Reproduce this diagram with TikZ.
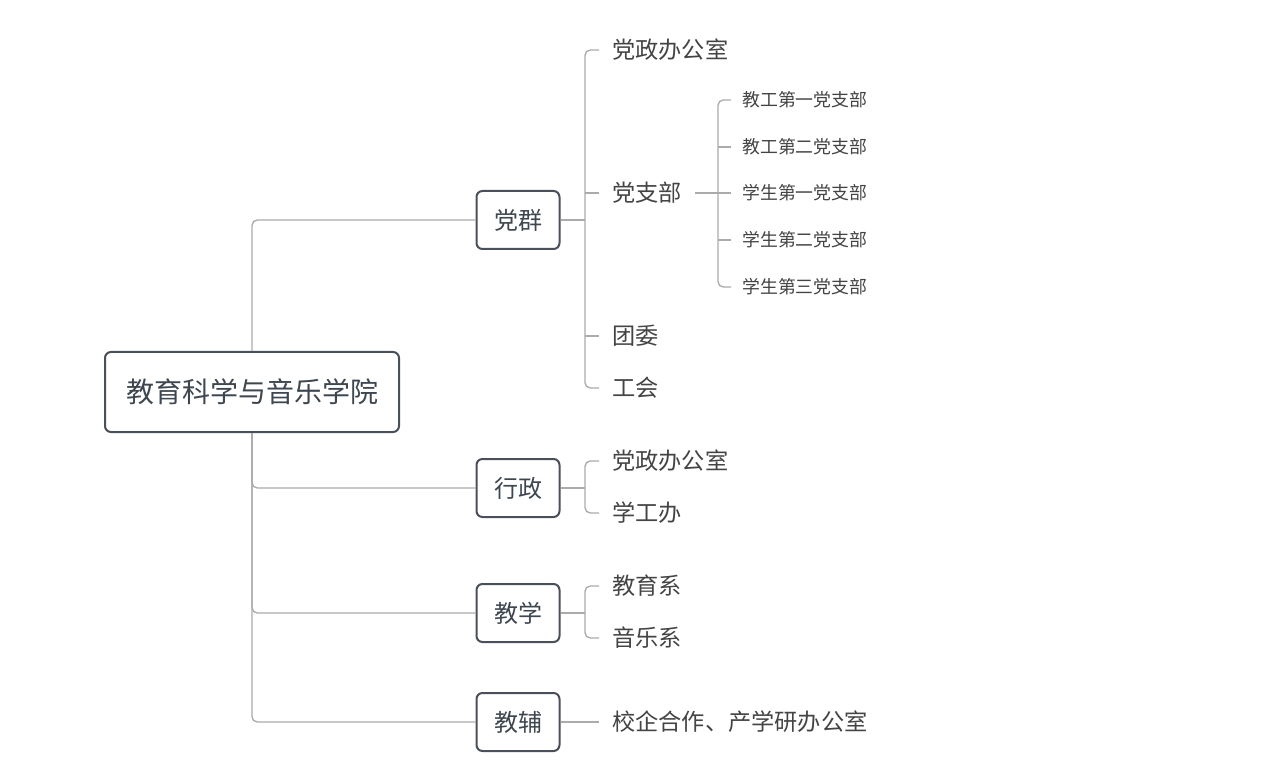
\documentclass[tikz,border=0pt]{standalone}
\usepackage{fontspec}
\setmainfont{Noto Sans CJK SC}
\usepackage{xcolor}
\usepackage{tikz}
\usetikzlibrary{calc}
\definecolor{boxline}{HTML}{4A5059}
\definecolor{ink}{HTML}{3E4650}
\definecolor{inkb}{HTML}{444444}
\definecolor{wire}{HTML}{ABABAB}
\tikzset{
  rootbox/.style={draw=boxline, line width=1.5pt, rounded corners=4.5pt, fill=white,
    minimum width=220.5pt, minimum height=60pt, text=ink, font=\fontsize{21pt}{25pt}\selectfont},
  catbox/.style={draw=boxline, line width=1.5pt, rounded corners=4.5pt, fill=white,
    minimum width=62.25pt, minimum height=43.5pt, text=ink, font=\fontsize{18pt}{22pt}\selectfont},
  conn/.style={draw=wire, line width=1pt, rounded corners=4pt},
  item/.style={anchor=west, inner xsep=9.75pt, inner ysep=0pt, text=inkb, font=\fontsize{17.4pt}{20pt}\selectfont},
  subitem/.style={anchor=west, inner xsep=8.25pt, inner ysep=0pt, text=inkb, font=\fontsize{13.4pt}{16pt}\selectfont}
}

\begin{document}
\begin{tikzpicture}[x=0.75pt,y=-0.75pt]
  \fill[white] (0,0) rectangle (1277,773);
  \useasboundingbox (0,0) rectangle (1277,773);

  % root and the four branches
  \node[rootbox] (root) at (252,392) {教育科学与音乐学院};
  \node[catbox] (dq) at (518,220) {党群};
  \node[catbox] (xz) at (518,488) {行政};
  \node[catbox] (jx) at (518,613) {教学};
  \node[catbox] (jf) at (518,722) {教辅};

  \draw[conn] (root.north) |- (dq.west);
  \draw[conn] (root.south) |- (xz.west);
  \draw[conn] (root.south) |- (jx.west);
  \draw[conn] (root.south) |- (jf.west);

  % 党群
  \node[item] (dq1) at (599,50) {党政办公室};
  \node[item] (dq2) at (599,193) {党支部};
  \node[item] (dq3) at (599,336) {团委};
  \node[item] (dq4) at (599,388) {工会};
  \coordinate (bq) at (585,220);
  \draw[conn] (dq.east) -- (bq);
  \draw[conn] (dq1.west) -| (bq) |- (dq4.west);
  \draw[conn] (dq2.west) -- (dq2.west -| bq);
  \draw[conn] (dq3.west) -- (dq3.west -| bq);

  % 党支部
  \node[subitem] (zb1) at (731,100) {教工第一党支部};
  \node[subitem] (zb2) at (731,147) {教工第二党支部};
  \node[subitem] (zb3) at (731,193) {学生第一党支部};
  \node[subitem] (zb4) at (731,240) {学生第二党支部};
  \node[subitem] (zb5) at (731,287) {学生第三党支部};
  \coordinate (bz) at (718,193);
  \draw[conn] (dq2.east) -- (zb3.west);
  \draw[conn] (zb1.west) -| (bz) |- (zb5.west);
  \draw[conn] (zb2.west) -- (zb2.west -| bz);
  \draw[conn] (zb4.west) -- (zb4.west -| bz);

  % 行政
  \node[item] (xz1) at (599,461) {党政办公室};
  \node[item] (xz2) at (599,513) {学工办};
  \coordinate (bx) at (585,488);
  \draw[conn] (xz.east) -- (bx);
  \draw[conn] (xz1.west) -| (bx) |- (xz2.west);

  % 教学
  \node[item] (jx1) at (599,586) {教育系};
  \node[item] (jx2) at (599,638) {音乐系};
  \coordinate (bj) at (585,613);
  \draw[conn] (jx.east) -- (bj);
  \draw[conn] (jx1.west) -| (bj) |- (jx2.west);

  % 教辅
  \node[item] (jf1) at (599,722) {校企合作、产学研办公室};
  \draw[conn] (jf.east) -- (jf1.west);
\end{tikzpicture}
\end{document}
